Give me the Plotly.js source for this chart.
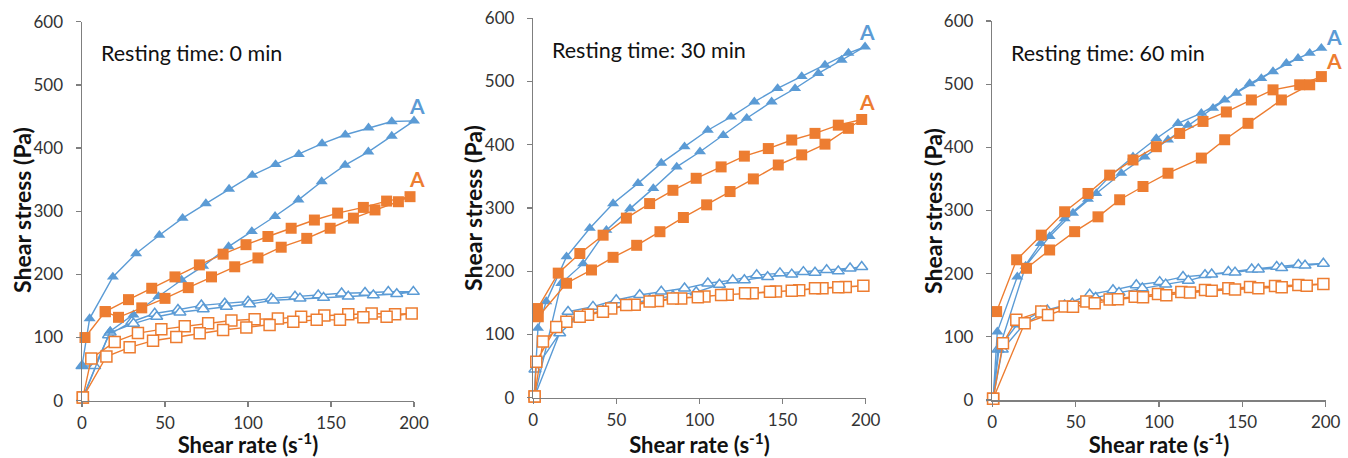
<!DOCTYPE html>
<html>
<head>
<meta charset="utf-8">
<script src="https://cdn.plot.ly/plotly-3.0.1.min.js"></script>
<style>
  html, body { margin: 0; padding: 0; background: #fff; }
  #chart { width: 1348px; height: 458px; }
</style>
</head>
<body>
<div id="chart"></div>
<script>
// ---------------- DATA ----------------
const panelTitles = ["Resting time: 0 min", "Resting time: 30 min", "Resting time: 60 min"];
const xAxisTitle = "Shear rate (s<sup>-1</sup>)";
const yAxisTitle = "Shear stress (Pa)";
const xTickVals = [0, 50, 100, 150, 200];
const yTickVals = [0, 100, 200, 300, 400, 500, 600];

// Panel 1 (0 min)
const p1_blueFilled_x = [0, 4.6, 18.6, 32.6, 46.6, 60.6, 74.6, 88.6, 102.6, 116.6, 130.6, 144.6, 158.6, 172.6, 186.6, 200, 186.6, 172.5, 158.5, 144.4, 130.4, 116.3, 102.3, 88.3, 73, 60, 46, 31, 17, 0.5];
const p1_blueFilled_y = [55, 130, 196, 233, 262, 289, 312, 335, 357, 374, 390, 407, 421, 432, 442, 443, 419, 394, 373, 347, 318, 292, 268, 244, 213, 191, 165, 136, 110, 5];
const p1_blueOpen_x = [0.5, 16, 30, 43.8, 57.8, 71.9, 86, 100, 114, 128.3, 142.3, 156.4, 170.5, 184.5, 199.6, 189.6, 175.5, 160.4, 145.5, 131.3, 115.3, 101, 87, 73, 59, 45, 31, 17, 7.6, 0];
const p1_blueOpen_y = [4, 104, 125, 138, 144, 151, 154, 157, 162, 165, 167, 170, 171, 172.5, 172.5, 169, 167, 165, 163, 162, 159, 153, 149, 145, 140, 133, 122, 108, 55, 55];
const p1_orangeFilled_x = [1.8, 14, 28, 42, 56, 70.7, 85, 98.8, 112, 126, 140, 154, 169.5, 183.5, 197.6, 190.6, 176.5, 163.5, 149.5, 135.4, 120, 106, 92, 78, 64, 50, 36, 22, 14];
const p1_orangeFilled_y = [100, 141, 160, 178, 196, 215, 232, 247, 260, 273, 286, 297, 306, 316, 323, 315, 302, 289, 273, 257, 243, 226, 212, 196, 179, 162, 147, 132, 141];
const p1_orangeOpen_x = [0.5, 5.6, 19.7, 33.7, 47.8, 61.9, 76, 90, 104, 118, 132, 146, 160.4, 174.5, 188.6, 198.6, 183.5, 169.5, 155.4, 141.4, 127.3, 113, 99, 85, 70.9, 56.8, 42.8, 28.7, 14.7, 0.5];
const p1_orangeOpen_y = [5, 67, 93, 107, 113, 118, 122.5, 127, 129, 130, 133, 135, 137, 138, 137, 138, 133, 132, 128, 128, 125, 120, 116, 112, 106.6, 101, 95, 84.5, 70, 5];

// Panel 2 (30 min)
const p2_blueFilled_x = [0.5, 2.8, 7.8, 20, 34, 48, 63, 77, 91, 105, 119, 133, 147, 161.5, 175.5, 189.6, 199.6, 185.5, 171.5, 157.5, 143.4, 128.4, 114.3, 100.3, 86.3, 72.2, 58.2, 44, 30, 16.8, 0.8];
const p2_blueFilled_y = [2, 110, 152, 223, 268, 307, 339, 371, 397, 423, 444, 468, 489, 508, 526, 545, 555, 534, 513, 489, 468, 442, 415, 389, 365, 331, 299, 265, 212, 181, 2];
const p2_blueOpen_x = [0.8, 20.9, 35.9, 49.9, 64, 77, 91, 105, 120, 134.4, 148.4, 162.5, 176.5, 190.6, 197.6, 183.5, 169.5, 155.5, 141, 127, 112, 98, 84, 70, 56, 42, 27, 15.9, 1];
const p2_blueOpen_y = [2, 136, 144, 154.5, 162.5, 168, 173, 181, 186, 194, 197, 199, 202, 204.6, 207, 200, 198, 195, 191, 186, 179, 167, 161, 155, 147, 138, 128, 102, 45];
const p2_orangeFilled_x = [2.5, 15, 28, 42, 56, 70, 84, 98, 113, 127, 141.4, 155.5, 169.5, 183.5, 197.6, 189.6, 175.5, 161.5, 147.4, 132.4, 118.4, 104.3, 90.3, 76.2, 62.2, 48, 35, 20, 3];
const p2_orangeFilled_y = [141, 197, 228, 257, 284, 307, 328, 347, 365, 382, 394, 407.5, 418, 431, 440, 426, 401, 384, 368, 346, 326, 305, 285, 262.5, 241, 222, 202, 181, 128];
const p2_orangeOpen_x = [0.8, 5.8, 19.9, 32.9, 46.9, 61, 75, 89, 103, 117, 132, 146, 160, 174, 188, 198.6, 183.5, 169.5, 155.5, 142.4, 127.4, 113, 99, 84, 70, 55.9, 41.9, 27.9, 13.8, 1.8, 0.8];
const p2_orangeOpen_y = [2, 89, 120, 131, 141, 147, 153, 157, 160, 163, 165, 168, 170, 173, 175, 177, 174.6, 173, 169, 167.6, 165, 162.5, 159, 157, 152, 146.6, 136, 128, 112, 57, 2];

// Panel 3 (60 min)
const p3_blueFilled_x = [0.5, 3, 15, 29, 43.4, 57.4, 70.4, 84.4, 98.4, 111.4, 125.4, 139.4, 154.4, 168.4, 183.4, 197.4, 190.4, 176.4, 161.4, 146.4, 132.4, 117.4, 105.4, 91.4, 77.4, 62.4, 48.4, 34.4, 20, 4, 0.5];
const p3_blueFilled_y = [2, 108, 195, 248, 287, 318, 354, 385, 414, 438, 454, 475, 501, 520, 541, 557, 549, 533, 509, 486, 462, 435, 412, 385, 359, 327, 296, 259, 212, 80, 2];
const p3_blueOpen_x = [0.5, 3.4, 15, 29, 43.4, 58.4, 72.4, 86.4, 100.4, 114.4, 127.6, 141.6, 155.6, 170.6, 183.6, 198.6, 187.6, 173.6, 159.6, 145.6, 131.6, 117.6, 104, 90, 76, 62, 48, 33, 19, 6, 0.5];
const p3_blueOpen_y = [2, 80, 120, 140, 150, 167, 174, 182, 187, 195, 198, 203, 207, 211, 214, 216, 213, 209, 207, 202, 199, 189, 183, 177, 170, 162, 153, 142, 120, 80, 2];
const p3_orangeFilled_x = [2.6, 14.6, 29.4, 43.4, 57.4, 70.4, 84.4, 98.4, 112.4, 126.4, 140.4, 155.4, 168.4, 184.4, 197.4, 190.4, 173.4, 153.4, 139.4, 125.4, 105.4, 90.4, 76.4, 63.4, 49.4, 34.4, 20.5];
const p3_orangeFilled_y = [140, 222, 261, 298, 327, 356, 380, 401, 422, 441, 456, 475, 491, 499, 512, 499, 475, 438, 412, 383, 359, 338, 317, 290, 266.5, 237.5, 208.5];
const p3_orangeOpen_x = [0.5, 6.4, 14.4, 29.4, 43.4, 56.4, 70.4, 85.4, 99.4, 113.4, 127.6, 141.6, 154.6, 169.6, 183.6, 198.6, 188.6, 173.6, 159.6, 145.6, 131.6, 118.6, 104.4, 90.4, 75.4, 61.4, 48.4, 33.4, 19.4, 0.5];
const p3_orangeOpen_y = [2, 90, 127, 140, 148, 156, 159, 163.5, 168, 171, 174, 177, 179, 180.5, 182, 183.6, 181, 178.5, 177, 175, 173, 170, 166, 162.6, 159.4, 153, 147.7, 134.6, 121.4, 2];

// "A" labels: drawn at the right end of each panel, heights in data units
const labelA_blueY = [468, 579, 575];
const labelA_orangeY = [352, 468, 538];

// ---------------- STYLE ----------------
const BLUE = '#5B9BD5';
const ORANGE = '#ED7D31';
const FONT = 'Lato, "Open Sans", sans-serif';
const AXIS_COLOR = '#7f7f7f';
const labelA_shift = [3, 1, 8];   // px to the right of x = 200

const panels = [
  {bf:[p1_blueFilled_x,p1_blueFilled_y], bo:[p1_blueOpen_x,p1_blueOpen_y], of:[p1_orangeFilled_x,p1_orangeFilled_y], oo:[p1_orangeOpen_x,p1_orangeOpen_y]},
  {bf:[p2_blueFilled_x,p2_blueFilled_y], bo:[p2_blueOpen_x,p2_blueOpen_y], of:[p2_orangeFilled_x,p2_orangeFilled_y], oo:[p2_orangeOpen_x,p2_orangeOpen_y]},
  {bf:[p3_blueFilled_x,p3_blueFilled_y], bo:[p3_blueOpen_x,p3_blueOpen_y], of:[p3_orangeFilled_x,p3_orangeFilled_y], oo:[p3_orangeOpen_x,p3_orangeOpen_y]}
];

// pixel geometry of the three plot areas (left, right, bottom, top) in a 1348x458 page,
// plus the centre of the rotated y-axis title
const W = 1348, H = 458;
const boxes = [
  {l: 82, r: 414, b: 400.7, t: 21.7, ytx: 22, yty: 210},
  {l: 533.3, r: 865.7, b: 397.7, t: 18.3, ytx: 473, yty: 208},
  {l: 992.3, r: 1325.7, b: 400, t: 21, ytx: 933, yty: 211}
];

function mk(xy, color, symbol, filled, idx) {
  const s = idx === 0 ? '' : String(idx + 1);
  return {
    x: xy[0], y: xy[1], xaxis: 'x' + s, yaxis: 'y' + s,
    type: 'scatter', mode: 'lines+markers', cliponaxis: false,
    showlegend: false, hoverinfo: 'skip',
    line: {color: color, width: 1.4},
    marker: {
      symbol: symbol,
      size: symbol === 'square' ? 11 : 10.5,
      color: filled ? color : '#ffffff',
      line: {color: color, width: filled ? 0 : 1.5}
    }
  };
}

const traces = [];
panels.forEach((p, i) => {
  traces.push(mk(p.bo, BLUE, 'triangle-up', false, i));
  traces.push(mk(p.bf, BLUE, 'triangle-up', true, i));
  traces.push(mk(p.oo, ORANGE, 'square', false, i));
  traces.push(mk(p.of, ORANGE, 'square', true, i));
});

const layout = {
  width: W, height: H,
  margin: {l: 0, r: 0, t: 0, b: 0},
  paper_bgcolor: '#ffffff', plot_bgcolor: '#ffffff',
  font: {family: FONT, color: '#222'},
  showlegend: false,
  annotations: []
};

boxes.forEach((bx, i) => {
  const s = i === 0 ? '' : String(i + 1);
  layout['xaxis' + s] = {
    domain: [bx.l / W, bx.r / W], anchor: 'y' + s,
    range: [0, 200], tickvals: xTickVals, ticktext: xTickVals.map(String),
    showgrid: false, zeroline: false, showline: true,
    linecolor: AXIS_COLOR, linewidth: 1.5,
    ticks: 'outside', ticklen: 5, tickwidth: 1.3, tickcolor: AXIS_COLOR,
    ticklabelstandoff: 1,
    tickfont: {family: FONT, size: 17, color: '#333'},
    title: {text: xAxisTitle, standoff: 3,
            font: {family: FONT, size: 22, color: '#111', weight: 'bold'}}
  };
  layout['yaxis' + s] = {
    domain: [(H - bx.b) / H, (H - bx.t) / H], anchor: 'x' + s,
    range: [0, 600], tickvals: yTickVals, ticktext: yTickVals.map(String),
    showgrid: false, zeroline: false, showline: true,
    linecolor: AXIS_COLOR, linewidth: 1.5,
    ticks: 'outside', ticklen: 5, tickwidth: 1.3, tickcolor: AXIS_COLOR,
    ticklabelstandoff: 9,
    tickfont: {family: FONT, size: 17, color: '#333'}
  };
  // rotated y-axis title, placed where the reference draws it
  layout.annotations.push({
    xref: 'paper', yref: 'paper', x: bx.ytx / W, y: (H - bx.yty) / H,
    xanchor: 'center', yanchor: 'middle', showarrow: false, textangle: -90,
    text: yAxisTitle, font: {family: FONT, size: 23, color: '#111', weight: 'bold'}
  });
  // panel caption
  layout.annotations.push({
    xref: 'x' + s, yref: 'y' + s, x: 10, y: 550,
    xanchor: 'left', yanchor: 'middle', showarrow: false,
    text: panelTitles[i], font: {family: FONT, size: 21.5, color: '#111'}
  });
  // "A" labels
  layout.annotations.push({
    xref: 'x' + s, yref: 'y' + s, x: 200, y: labelA_blueY[i], xshift: labelA_shift[i],
    xanchor: 'center', yanchor: 'middle', showarrow: false,
    text: 'A', font: {family: FONT, size: 21, color: BLUE, weight: 'bold'}
  });
  layout.annotations.push({
    xref: 'x' + s, yref: 'y' + s, x: 200, y: labelA_orangeY[i], xshift: labelA_shift[i],
    xanchor: 'center', yanchor: 'middle', showarrow: false,
    text: 'A', font: {family: FONT, size: 21, color: ORANGE, weight: 'bold'}
  });
});

Plotly.newPlot('chart', traces, layout, {displayModeBar: false, staticPlot: true});
</script>
</body>
</html>
